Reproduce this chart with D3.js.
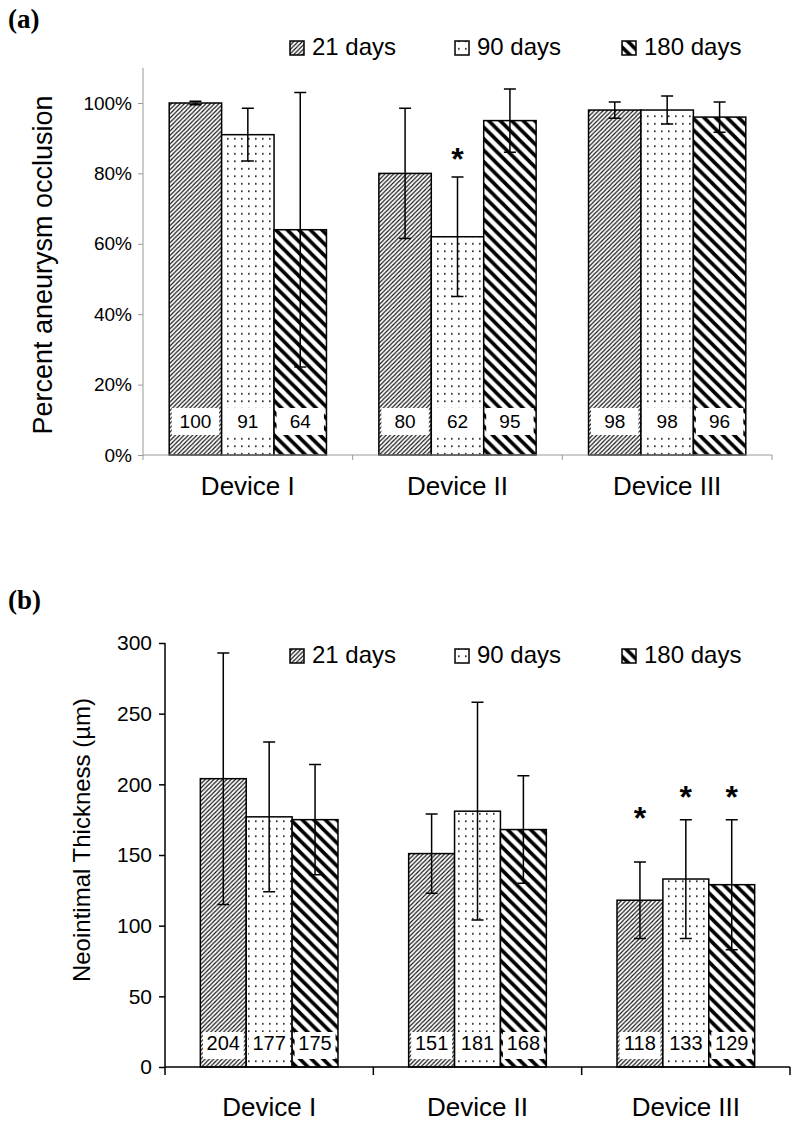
<!DOCTYPE html>
<html><head><meta charset="utf-8">
<script src="https://cdn.jsdelivr.net/npm/d3@7"></script>
<style>body{margin:0;background:#fff}svg{display:block}</style>
</head><body>
<svg id="c" width="800" height="1128"></svg>
<script>
// ---------- data ----------
const devices = ["Device I", "Device II", "Device III"];
const series = ["21 days", "90 days", "180 days"];
// panel (a): percent aneurysm occlusion (by device, per series)
const occl21 = [100, 80, 98];
const occl90 = [91, 62, 98];
const occl180 = [64, 95, 96];
const occlErr21 = [0.5, 18.5, 2.3];
const occlErr90 = [7.5, 17, 4];
const occlErr180 = [39, 9, 4.3];
// significance stars: [device index, series, level of star centre]
const occlStars = [[1, "90 days", 86]];
const occlTicks = [0, 20, 40, 60, 80, 100];
// panel (b): neointimal thickness (µm)
const thick21 = [204, 151, 118];
const thick90 = [177, 181, 133];
const thick180 = [175, 168, 129];
const thickErr21 = [89, 28, 27];
const thickErr90 = [53, 77, 42];
const thickErr180 = [39, 38, 46];
const thickStars = [[2, "21 days", 181], [2, "90 days", 196], [2, "180 days", 196]];
const thickTicks = [0, 50, 100, 150, 200, 250, 300];

const svg = d3.select("#c");
const defs = svg.append("defs");
const FONT = "'Liberation Sans', Arial, sans-serif";

// ---------- patterns ----------
function hatch(id, size, stroke, width, dir) {
  const p = defs.append("pattern").attr("id", id).attr("patternUnits", "userSpaceOnUse")
    .attr("width", size).attr("height", size);
  p.append("rect").attr("width", size).attr("height", size).attr("fill", "#fff");
  const s = size;
  const d = dir === "/"
    ? `M${-s/2},${s/2} L${s/2},${-s/2} M0,${s} L${s},0 M${s/2},${s*1.5} L${s*1.5},${s/2}`
    : `M${-s/2},${s/2} L${s/2},${s*1.5} M0,0 L${s},${s} M${s/2},${-s/2} L${s*1.5},${s/2}`;
  p.append("path").attr("d", d).attr("stroke", stroke).attr("stroke-width", width).attr("fill", "none");
}
hatch("p21", 4.3, "#111", 1.15, "/");
hatch("p180", 11.5, "#000", 3.6, "\\");
(function () {
  const p = defs.append("pattern").attr("id", "p90").attr("patternUnits", "userSpaceOnUse")
    .attr("width", 7).attr("height", 7.5);
  p.append("rect").attr("width", 7).attr("height", 7.5).attr("fill", "#fff");
  p.append("rect").attr("x", 3).attr("y", 3).attr("width", 1.6).attr("height", 1.6).attr("fill", "#111");
})();
const fills = { "21 days": "url(#p21)", "90 days": "url(#p90)", "180 days": "url(#p180)" };

// ---------- panel drawer ----------
function panel(cfg) {
  const { vals, errs, stars, ticks, x0r, yr, dom, outerPad, axisColor, axisW, fmt } = cfg;
  const g = svg.append("g");
  const x0 = d3.scaleBand().domain(devices).range(x0r).padding(0);
  const x1 = d3.scaleBand().domain(series).range([0, x0.bandwidth()]).paddingInner(0).paddingOuter(outerPad);
  const y = d3.scaleLinear().domain(dom).range(yr);

  const rows = [];
  devices.forEach((d, i) => series.forEach((s, j) => rows.push({ d, s, v: vals[j][i], e: errs[j][i] })));

  g.selectAll("rect.bar").data(rows).join("rect").attr("class", "bar")
    .attr("x", r => x0(r.d) + x1(r.s)).attr("width", x1.bandwidth())
    .attr("y", r => y(r.v)).attr("height", r => y(0) - y(r.v))
    .attr("fill", r => fills[r.s]).attr("stroke", "#000").attr("stroke-width", 1.5);

  g.selectAll("rect.lab").data(rows).join("rect").attr("class", "lab")
    .attr("x", r => x0(r.d) + x1(r.s) + 2.5).attr("width", x1.bandwidth() - 5)
    .attr("y", y(0) - cfg.boxBottom - cfg.boxH).attr("height", cfg.boxH).attr("fill", "#fff");
  g.selectAll("text.lab").data(rows).join("text").attr("class", "lab")
    .attr("x", r => x0(r.d) + x1(r.s) + x1.bandwidth() / 2)
    .attr("y", y(0) - cfg.labBase).attr("text-anchor", "middle")
    .attr("font-family", FONT).attr("font-size", cfg.labFont).text(r => Math.round(r.v));

  const cx = r => x0(r.d) + x1(r.s) + x1.bandwidth() / 2;
  const eg = g.append("g").attr("stroke", "#000").attr("stroke-width", 1.5).attr("fill", "none");
  eg.selectAll("path").data(rows).join("path")
    .attr("d", r => {
      const c = cx(r), t = y(r.v + r.e), b = y(r.v - r.e);
      return `M${c},${t}V${b}M${c - 6},${t}H${c + 6}M${c - 6},${b}H${c + 6}`;
    });

  g.selectAll("text.star").data(stars).join("text").attr("class", "star")
    .attr("x", s => x0(devices[s[0]]) + x1(s[1]) + x1.bandwidth() / 2)
    .attr("y", s => y(s[2]) + 18)
    .attr("text-anchor", "middle").attr("font-family", FONT).attr("font-weight", "bold")
    .attr("font-size", 32).text("*");

  const ya = g.append("g").attr("transform", `translate(${x0r[0]},0)`)
    .call(d3.axisLeft(y).tickValues(ticks).tickSize(cfg.tickLen).tickPadding(cfg.tickPad).tickFormat(fmt).tickSizeOuter(0));
  ya.select(".domain").attr("stroke", axisColor).attr("stroke-width", axisW)
    .attr("d", `M0,${yr[0]}V${y(dom[1])}`);
  ya.selectAll(".tick line").attr("stroke", axisColor).attr("stroke-width", axisW);
  ya.selectAll(".tick text").attr("font-family", FONT).attr("font-size", cfg.tickFont).attr("fill", "#000");

  const xa = g.append("g");
  xa.append("path").attr("d", `M${x0r[0]},${y(0)}H${x0r[1]}`).attr("stroke", axisColor).attr("stroke-width", axisW);
  const bounds = devices.map(d => x0(d)).concat([x0r[1]]);
  xa.selectAll("line").data(bounds).join("line")
    .attr("x1", b => b).attr("x2", b => b).attr("y1", y(0)).attr("y2", y(0) + cfg.xTick)
    .attr("stroke", axisColor).attr("stroke-width", axisW);
  xa.selectAll("text").data(devices).join("text")
    .attr("x", d => x0(d) + x0.bandwidth() / 2).attr("y", cfg.catY).attr("text-anchor", "middle")
    .attr("font-family", FONT).attr("font-size", cfg.catFont).text(d => d);

  g.append("text").attr("transform", `translate(${cfg.titleX},${cfg.titleY}) rotate(-90)`)
    .attr("text-anchor", "middle").attr("font-family", FONT).attr("font-size", cfg.titleFont).text(cfg.title);

  const lg = g.append("g");
  const lx = [290, 455, 622];
  series.forEach((s, i) => {
    lg.append("rect").attr("x", lx[i]).attr("y", cfg.legY - 14).attr("width", 14).attr("height", 14)
      .attr("fill", fills[s]).attr("stroke", "#000").attr("stroke-width", 1.5);
    lg.append("text").attr("x", lx[i] + 22).attr("y", cfg.legY).attr("font-family", FONT)
      .attr("font-size", 24).text(s);
  });

  g.append("text").attr("x", 8).attr("y", cfg.letterY).attr("font-family", "'Liberation Serif', 'Times New Roman', serif")
    .attr("font-weight", "bold").attr("font-size", 27).text(cfg.letter);
}

panel({
  vals: [occl21, occl90, occl180], errs: [occlErr21, occlErr90, occlErr180], stars: occlStars,
  ticks: occlTicks, x0r: [143, 772], yr: [455, 103 - 0.1 * 352], dom: [0, 110], outerPad: 0.5,
  axisColor: "#999", axisW: 1, fmt: d => d + "%", tickLen: 5, tickPad: 6, tickFont: 19, xTick: 5,
  boxBottom: 20, boxH: 27, labBase: 27, labFont: 19,
  catY: 495, catFont: 26, title: "Percent aneurysm occlusion", titleX: 52, titleY: 265, titleFont: 27,
  legY: 55, letter: "(a)", letterY: 28
});
panel({
  vals: [thick21, thick90, thick180], errs: [thickErr21, thickErr90, thickErr180], stars: thickStars,
  ticks: thickTicks, x0r: [165, 790], yr: [1067, 643], dom: [0, 300], outerPad: 0.77,
  axisColor: "#000", axisW: 1.5, fmt: d => d, tickLen: 6, tickPad: 7, tickFont: 21, xTick: 8,
  boxBottom: 8, boxH: 27, labBase: 17, labFont: 20,
  catY: 1116, catFont: 26, title: "Neointimal Thickness (\u00b5m)", titleX: 90, titleY: 840, titleFont: 24,
  legY: 663, letter: "(b)", letterY: 609
});
</script>
</body></html>
